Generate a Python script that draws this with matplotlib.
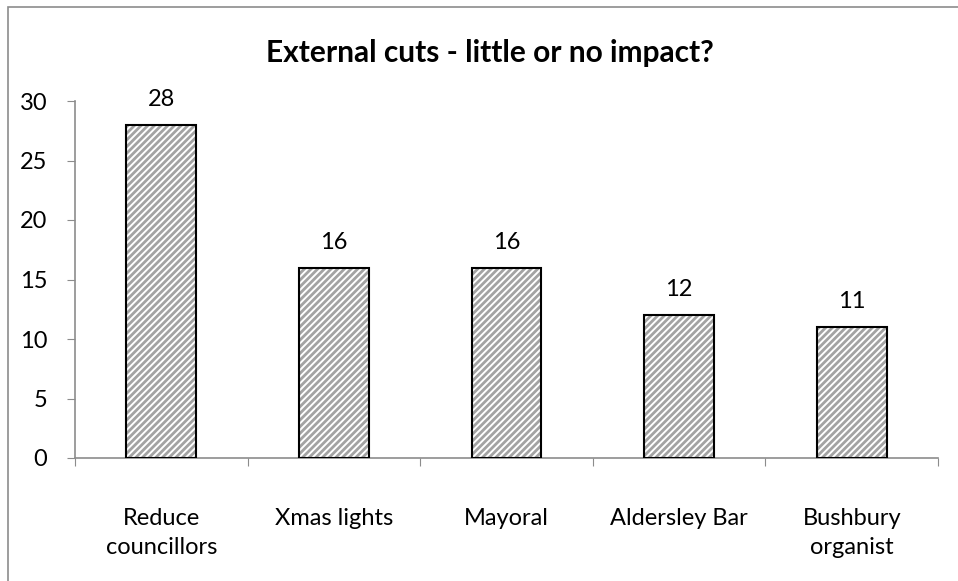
import matplotlib.pyplot as plt
from matplotlib.patches import Rectangle

plt.rcParams['font.family'] = ['Lato', 'DejaVu Sans']
plt.rcParams['hatch.linewidth'] = 2.0

categories = ['Reduce\ncouncillors', 'Xmas lights', 'Mayoral', 'Aldersley Bar', 'Bushbury\norganist']
values = [28, 16, 16, 12, 11]

fig = plt.figure(figsize=(9.58, 5.81), dpi=100)
ax = fig.add_axes([75 / 958, 1 - 458 / 581, 863 / 958, 357 / 581])

# outer chart border (runs off the right and bottom edge)
fig.patches.append(Rectangle((8 / 958, -0.1), 1.2, 1 - 7 / 581 + 0.1,
                             transform=fig.transFigure, fill=False,
                             edgecolor='#8c8c8c', linewidth=1.2))

x = range(len(categories))
# hatch takes the edge colour, so draw the grey hatch and the black outline separately
ax.bar(x, values, width=0.405, color='white', edgecolor='#a3a3a3',
       linewidth=0, hatch='/////', zorder=2)
ax.bar(x, values, width=0.405, fill=False, edgecolor='black',
       linewidth=1.5, zorder=3)
for xi, v in zip(x, values):
    ax.text(xi, v + 1.6, str(v), ha='center', va='baseline', fontsize=17)

ax.set_xlim(-0.5, len(categories) - 0.5)
ax.set_ylim(0, 30)
ax.set_yticks(range(0, 31, 5))
ax.set_xticks([i - 0.5 for i in range(len(categories) + 1)], minor=False)
ax.set_xticklabels([])
ax.set_xticks(list(x), minor=True)
ax.set_xticklabels(categories, minor=True, fontsize=17, linespacing=1.45)
ax.tick_params(axis='x', which='minor', length=0, pad=36)
ax.tick_params(axis='x', which='major', length=6, color='#8c8c8c', direction='out')
ax.tick_params(axis='y', length=6, color='#8c8c8c', labelsize=17, pad=14)

for s in ['top', 'right']:
    ax.spines[s].set_visible(False)
for s in ['left', 'bottom']:
    ax.spines[s].set_color('#8c8c8c')
    ax.spines[s].set_linewidth(1.2)

fig.text(490 / 958, 1 - 53 / 581, 'External cuts - little or no impact?',
         ha='center', va='center', fontsize=21.5, fontweight='bold')

fig.savefig('out.png', dpi=100)
